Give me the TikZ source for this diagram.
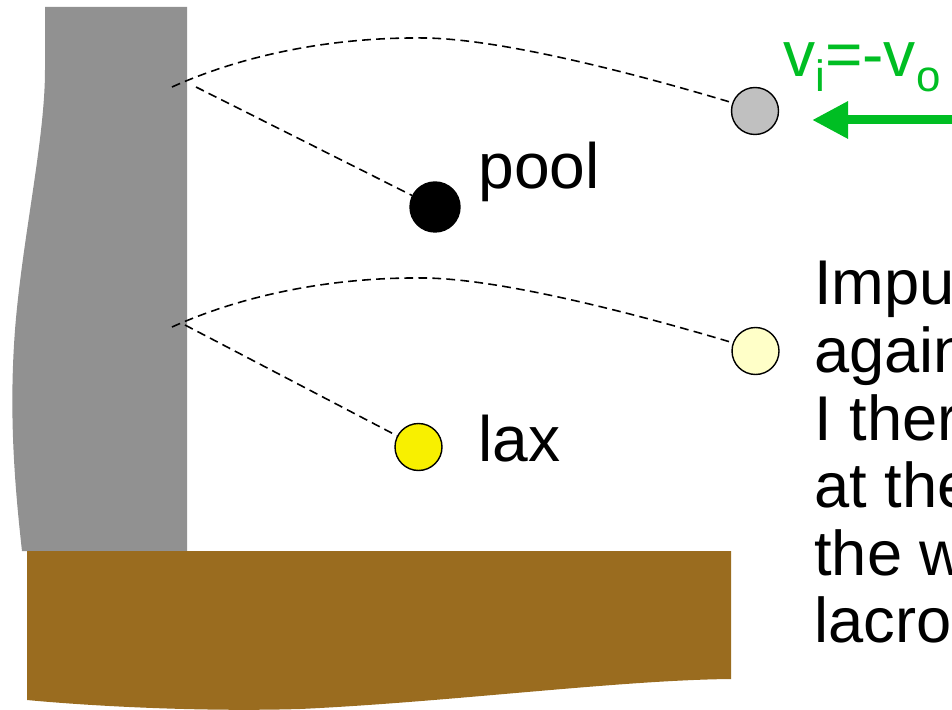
\documentclass[tikz,border=0pt]{standalone}
\usepackage{fontspec}
\setmainfont{Liberation Sans}
\usetikzlibrary{arrows.meta}

\definecolor{wallgray}{RGB}{145,145,145}
\definecolor{dirt}{RGB}{154,108,31}
\definecolor{ballgray}{RGB}{192,192,192}
\definecolor{ballpale}{RGB}{255,255,200}
\definecolor{ballyellow}{RGB}{248,240,0}
\definecolor{velgreen}{RGB}{0,190,35}

\begin{document}
\begin{tikzpicture}[x=0.02cm, y=-0.02cm,
  ball/.style={circle, draw=black, line width=0.8pt, inner sep=0pt, minimum size=0.94cm},
  trail/.style={dash pattern=on 5pt off 3pt, line width=0.9pt},
  lbl/.style={anchor=base west, inner sep=0pt, font=\fontsize{36.5}{40}\selectfont},
  txt/.style={anchor=base west, inner sep=0pt, font=\fontsize{36}{40}\selectfont}]

\useasboundingbox (0,0) rectangle (952,709);

\fill[wallgray] (45,7) -- (187,7) -- (187,551) -- (22,551) .. controls (14,480) and (9,410) .. (15,330) .. controls (22,240) and (45,140) .. (45,70) -- cycle;
\fill[dirt] (27,551) -- (731,551) -- (731,679) .. controls (620,680) and (450,702) .. (300,709) .. controls (200,712) and (90,706) .. (27,700) -- cycle;

\node[ball, fill=ballgray] (v1) at (755,111) {};
\node[ball, fill=black, minimum size=1cm] (v2) at (435,207) {};
\node[ball, fill=ballpale] (v3) at (755.5,351) {};
\node[ball, fill=ballyellow] (v4) at (418.5,447) {};
\coordinate (v5) at (172,87);
\coordinate (v6) at (196,87);
\coordinate (v7) at (172,327);
\coordinate (v8) at (185,325);
\draw[trail] (v5) .. controls (250,52) and (340,37) .. (425,38) .. controls (500,39) and (630,72) .. (v1.160);
\draw[trail] (v7) .. controls (250,292) and (340,277) .. (425,278) .. controls (500,279) and (630,312) .. (v3.160);
\draw[trail] (v6) edge (v2);
\draw[trail] (v8) edge (v4);

\node[lbl] (v9) at (478,189) {pool};
\node[lbl] (v10) at (478,461) {lax};
\node[lbl, text=velgreen] (v11) at (783,77) {v\raisebox{-0.3cm}{\fontsize{25}{25}\selectfont i}=-v\raisebox{-0.3cm}{\fontsize{25}{25}\selectfont o}};

\coordinate (v12) at (975,120);
\coordinate (v13) at (812,120);
\draw[velgreen, line width=0.18cm, -{Triangle[length=0.72cm, width=0.7cm]}] (v12) -- (v13);

\node[txt] (v14) at (814,304) {Impu};
\node[txt] (v15) at (814,372) {again};
\node[txt] (v16) at (814,440) {I ther};
\node[txt] (v17) at (814,507) {at the};
\node[txt] (v18) at (814,575) {the w};
\node[txt] (v19) at (814,642) {lacro};
\end{tikzpicture}
\end{document}
